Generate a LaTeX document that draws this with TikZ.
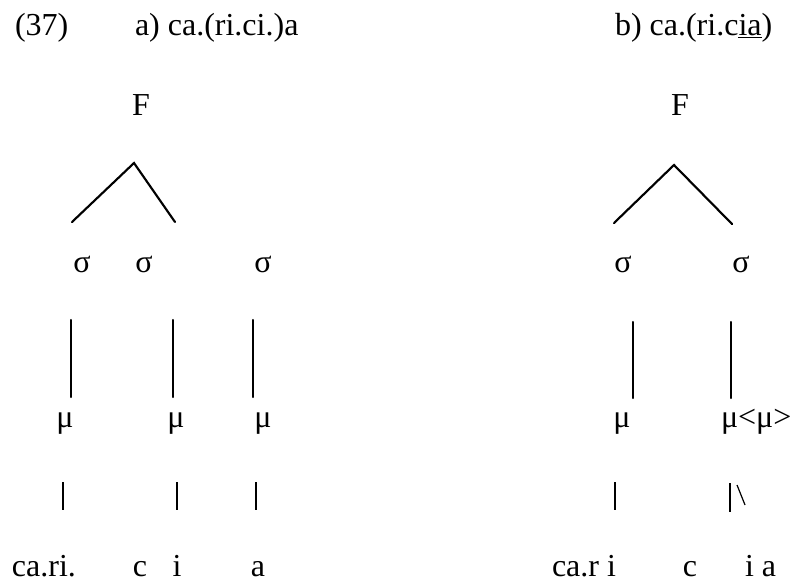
\documentclass[tikz,border=0pt]{standalone}
\usepackage{fontspec}
\setmainfont{Liberation Serif}
\begin{document}
\begin{tikzpicture}[x=0.75pt,y=-0.75pt,
  lbl/.style={inner sep=0pt,outer sep=0pt,font=\fontsize{24}{28}\selectfont},
  branch/.style={line width=1.6pt,line cap=round},
  assoc/.style={line width=0.9pt}]
\useasboundingbox (0,0) rectangle (805,583);
% headings
\node[lbl,anchor=base west] (num) at (15,35) {(37)};
\node[lbl,anchor=base west] (ha) at (135,35) {a) ca.(ri.ci.)a};
\node[lbl,anchor=base west] (hb) at (615,35) {b) ca.(ri.c\underline{ia})};
% ---------- a) ----------
\node[lbl,anchor=base] (Fa) at (141,115) {F};
\coordinate (apa) at (134,163);
\coordinate (aL) at (72,222);
\coordinate (aR) at (175,222);
\draw[branch] (aL) -- (apa) -- (aR);
\node[lbl,anchor=base] (sa1) at (82,272) {σ};
\node[lbl,anchor=base] (sa2) at (144,272) {σ};
\node[lbl,anchor=base] (sa3) at (263,272) {σ};
\node[lbl,anchor=base] (ma1) at (65,427) {μ};
\node[lbl,anchor=base] (ma2) at (176,427) {μ};
\node[lbl,anchor=base] (ma3) at (263,427) {μ};
\coordinate (la1t) at (71,320); \coordinate (la1b) at (71,397);
\coordinate (la2t) at (173,320); \coordinate (la2b) at (173,397);
\coordinate (la3t) at (253,320); \coordinate (la3b) at (253,397);
\draw[branch] (la1t) -- (la1b);
\draw[branch] (la2t) -- (la2b);
\draw[branch] (la3t) -- (la3b);
\coordinate (ba1t) at (63,482); \coordinate (ba1b) at (63,510);
\coordinate (ba2t) at (177,482); \coordinate (ba2b) at (177,510);
\coordinate (ba3t) at (256,482); \coordinate (ba3b) at (256,510);
\draw[assoc] (ba1t) -- (ba1b);
\draw[assoc] (ba2t) -- (ba2b);
\draw[assoc] (ba3t) -- (ba3b);
\node[lbl,anchor=base west] (wa1) at (12,576) {ca.ri.};
\node[lbl,anchor=base] (wa2) at (140,576) {c};
\node[lbl,anchor=base] (wa3) at (177,576) {i};
\node[lbl,anchor=base] (wa4) at (258,576) {a};
% ---------- b) ----------
\node[lbl,anchor=base] (Fb) at (680,115) {F};
\coordinate (apb) at (674,165);
\coordinate (bL) at (614,223);
\coordinate (bR) at (732,224);
\draw[branch] (bL) -- (apb) -- (bR);
\node[lbl,anchor=base] (sb1) at (623,272) {σ};
\node[lbl,anchor=base] (sb2) at (741,272) {σ};
\node[lbl,anchor=base] (mb1) at (622,427) {μ};
\node[lbl,anchor=base west] (mb2) at (721,427) {μ<μ>};
\coordinate (lb1t) at (633,322); \coordinate (lb1b) at (633,398);
\coordinate (lb2t) at (731,322); \coordinate (lb2b) at (731,398);
\draw[branch] (lb1t) -- (lb1b);
\draw[branch] (lb2t) -- (lb2b);
\coordinate (bb1t) at (615,482); \coordinate (bb1b) at (615,510);
\coordinate (bb2t) at (730,483); \coordinate (bb2b) at (730,512);
\coordinate (bb3t) at (737,485); \coordinate (bb3b) at (745,505);
\draw[assoc] (bb1t) -- (bb1b);
\draw[assoc] (bb2t) -- (bb2b);
\draw[assoc] (bb3t) -- (bb3b);
\node[lbl,anchor=base west] (wb1) at (552,576) {ca.r i};
\node[lbl,anchor=base] (wb2) at (690,576) {c};
\node[lbl,anchor=base west] (wb3) at (745,576) {i a};
\end{tikzpicture}
\end{document}
